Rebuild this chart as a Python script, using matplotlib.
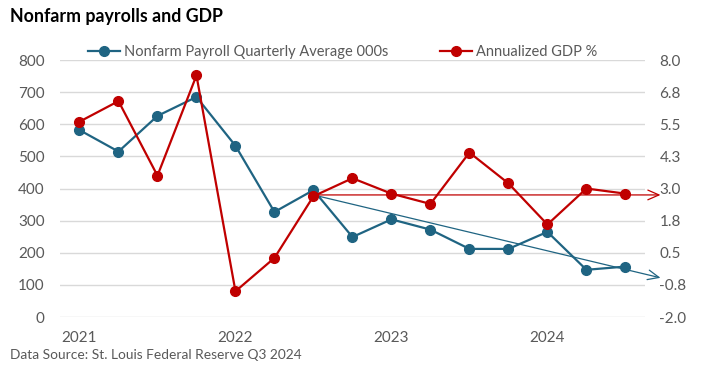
import matplotlib.pyplot as plt
import numpy as np

plt.rcParams['font.family'] = ['Lato', 'DejaVu Sans']

# quarterly data, 2021 Q1 .. 2024 Q3
quarters = ["2021 Q1", "2021 Q2", "2021 Q3", "2021 Q4",
            "2022 Q1", "2022 Q2", "2022 Q3", "2022 Q4",
            "2023 Q1", "2023 Q2", "2023 Q3", "2023 Q4",
            "2024 Q1", "2024 Q2", "2024 Q3"]
payrolls = [582, 515, 626, 685, 533, 327, 395, 249, 304, 272, 212, 212, 265, 147, 157]
gdp = [5.6, 6.4, 3.5, 7.4, -1.0, 0.3, 2.7, 3.4, 2.8, 2.4, 4.4, 3.2, 1.6, 3.0, 2.8]

year_labels = ["2021", "2022", "2023", "2024"]
year_pos = [0, 4, 8, 12]

left_ticks = [0, 100, 200, 300, 400, 500, 600, 700, 800]
right_ticks = [-2.0, -0.75, 0.5, 1.75, 3.0, 4.25, 5.5, 6.75, 8.0]
right_labels = ["-2.0", "-0.8", "0.5", "1.8", "3.0", "4.3", "5.5", "6.8", "8.0"]

# hand drawn arrows on the chart (left axis units)
arrow_start = (6, 380)
red_arrow_end = (14.9, 380)
blue_arrow_end = (14.9, 122)

blue = "#1F6482"
red = "#C00000"
grey = "#595959"

fig = plt.figure(figsize=(7.09, 3.72), dpi=100)
ax = fig.add_axes([0.0846, 0.1478, 0.825, 0.6909])
ax2 = ax.twinx()

x = np.arange(len(quarters))
l1, = ax.plot(x, payrolls, color=blue, lw=1.6, marker="o", ms=7,
              label="Nonfarm Payroll Quarterly Average 000s", zorder=3)
l2, = ax2.plot(x, gdp, color=red, lw=1.6, marker="o", ms=7,
               label="Annualized GDP %", zorder=3)

ax.set_xlim(-0.5, len(quarters) - 0.5)
ax.set_ylim(0, 800)
ax2.set_ylim(-2.0, 8.0)
ax.set_yticks(left_ticks)
ax2.set_yticks(right_ticks)
ax2.set_yticklabels(right_labels)
ax.set_xticks(year_pos)
ax.set_xticklabels(year_labels)
ax.grid(axis="y", color="#D9D9D9", lw=1)
ax.set_axisbelow(True)

for a in (ax, ax2):
    for s in a.spines.values():
        s.set_visible(False)
    a.tick_params(length=0, labelsize=11, labelcolor=grey)
ax.tick_params(axis="x", pad=10)
ax.tick_params(axis="y", pad=11)
ax2.tick_params(axis="y", pad=10.5)

ax.annotate("", xy=red_arrow_end, xytext=arrow_start,
            arrowprops=dict(arrowstyle="->,head_length=0.8,head_width=0.35",
                            color=red, lw=0.9, shrinkA=0, shrinkB=0),
            annotation_clip=False, zorder=4)
ax.annotate("", xy=blue_arrow_end, xytext=arrow_start,
            arrowprops=dict(arrowstyle="->,head_length=0.8,head_width=0.35",
                            color=blue, lw=0.9, shrinkA=0, shrinkB=0),
            annotation_clip=False, zorder=4)

fig.legend(handles=[l1, l2], loc="center", bbox_to_anchor=(0.483, 0.86),
           ncol=2, frameon=False, fontsize=10.5, labelcolor=grey,
           handlelength=2.2, columnspacing=3.5, handletextpad=0.3)

fig.text(0.014, 0.955, "Nonfarm payrolls and GDP", fontsize=12.8,
         fontweight="bold", color="black", va="center")
fig.text(0.014, 0.045, "Data Source: St. Louis Federal Reserve Q3 2024",
         fontsize=9.9, color=grey, va="center")

fig.savefig("out.png", dpi=100)
